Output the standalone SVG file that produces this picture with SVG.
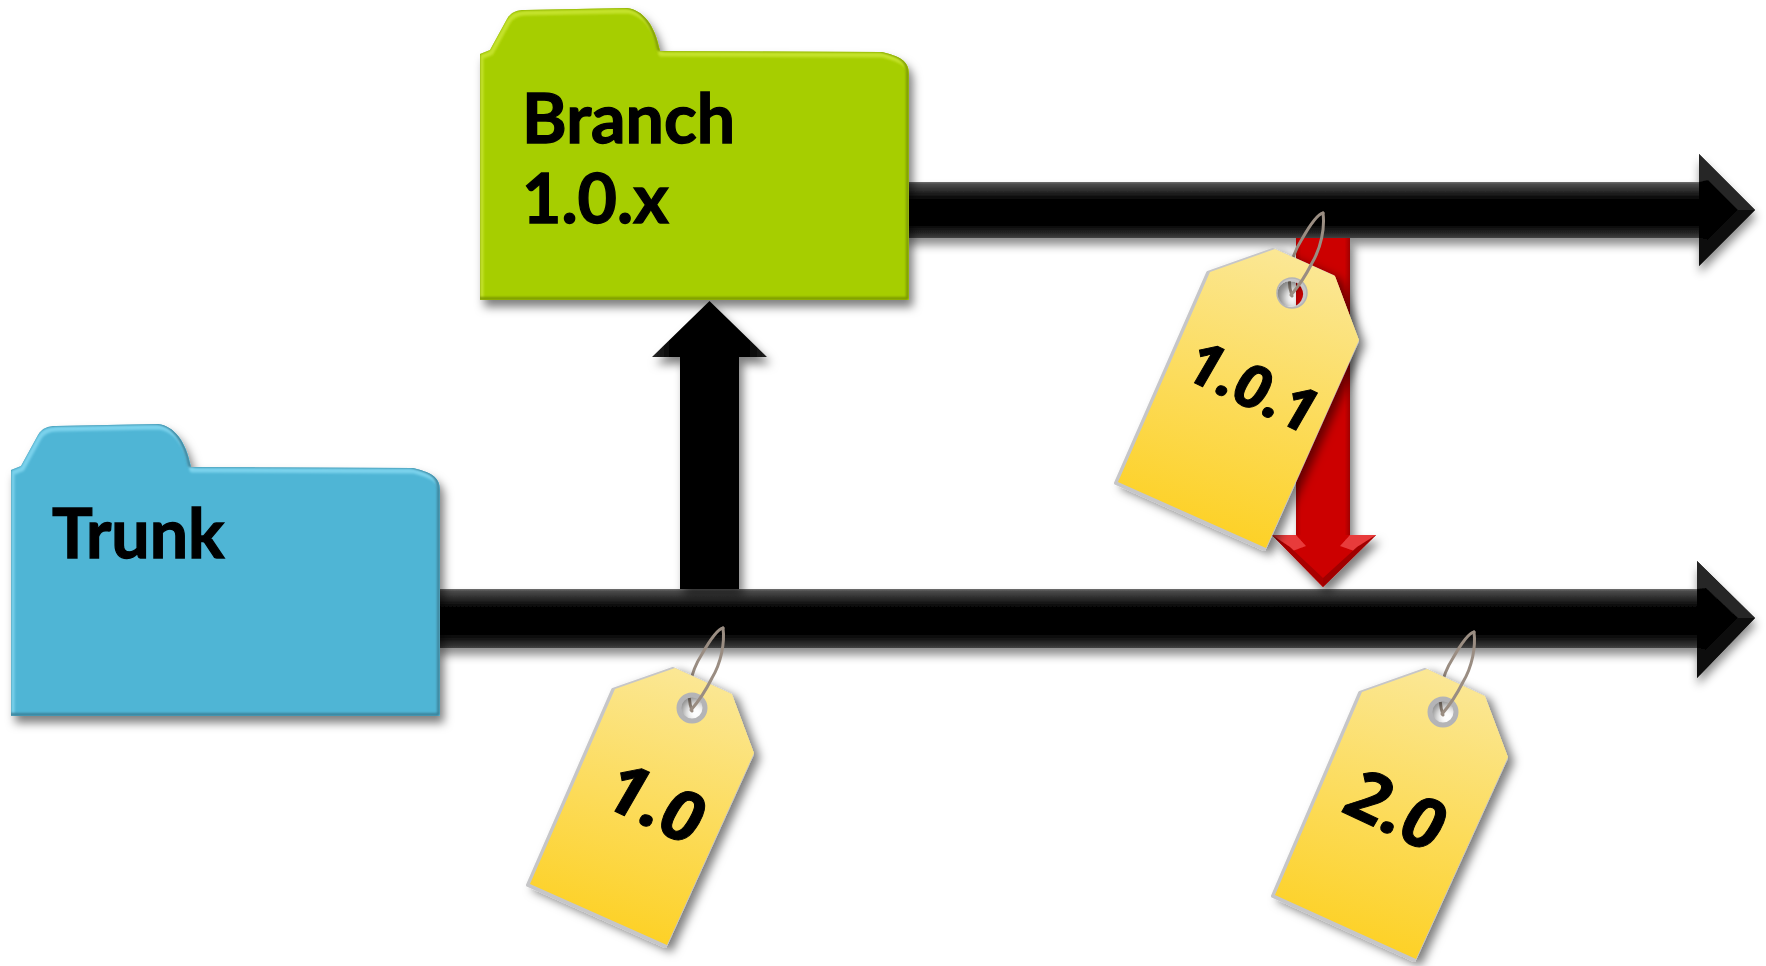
<svg xmlns="http://www.w3.org/2000/svg" width="1766" height="966" viewBox="0 0 1766 966">
<style>
.folderText{font-family:Lato,"Noto Sans",sans-serif;font-weight:700;font-size:68px;fill:#000;stroke:#000;stroke-width:1.300}
.tagText{font-family:"Open Sans","Liberation Sans",sans-serif;font-weight:700;fill:#000;stroke:#000;stroke-width:1}
.tagBody{fill:url(#tagGrad);fill-rule:evenodd}
.tagRim{fill:#c6c6c8;fill-rule:evenodd;stroke:#c6c6c8;stroke-width:4;stroke-linejoin:round}
.hole{fill:none;stroke:#b4b4b6}
.ring{fill:none;stroke:#9a8d82;stroke-width:3;stroke-linecap:round}
.lit{fill:none;stroke-width:5;stroke-linejoin:round}
.dim{fill:none;stroke-width:3;stroke-linejoin:round}
</style>
<defs>
<filter id="shadow" x="-10%" y="-10%" width="125%" height="125%"><feDropShadow dx="4" dy="7" stdDeviation="5" flood-color="#000" flood-opacity=".5"/></filter>
<filter id="shadowBar" x="-5%" y="-30%" width="110%" height="170%"><feDropShadow dx="1" dy="7" stdDeviation="5" flood-color="#000" flood-opacity=".45"/></filter>
<filter id="shadowTag" x="-20%" y="-20%" width="145%" height="145%"><feDropShadow dx="6" dy="4" stdDeviation="5" flood-color="#000" flood-opacity=".5"/></filter>
<filter id="soft" x="-5%" y="-5%" width="110%" height="110%"><feGaussianBlur stdDeviation="1.100"/></filter>
<linearGradient id="barGrad" x1="0" y1="0" x2="0" y2="1">
<stop offset="0" stop-color="#707070"/><stop offset=".04" stop-color="#4a4a4a"/><stop offset=".3" stop-color="#060606"/><stop offset=".78" stop-color="#050505"/><stop offset=".96" stop-color="#333"/><stop offset="1" stop-color="#444"/>
</linearGradient>
<linearGradient id="upGrad" x1="0" y1="0" x2="1" y2="0">
<stop offset="0" stop-color="#2a2a2a"/><stop offset=".15" stop-color="#060606"/><stop offset=".85" stop-color="#060606"/><stop offset="1" stop-color="#222"/>
</linearGradient>
<linearGradient id="tagGrad" x1=".62" y1="0" x2=".38" y2="1">
<stop offset="0" stop-color="#fbe794"/><stop offset="1" stop-color="#fdd021"/>
</linearGradient>
<linearGradient id="redShaft" x1="0" y1="0" x2="1" y2="0">
<stop offset="0" stop-color="#b00000"/><stop offset=".1" stop-color="#cc0000"/><stop offset=".9" stop-color="#cc0000"/><stop offset="1" stop-color="#a00000"/>
</linearGradient>
<path id="folderShape" d="M480 54L490 50L507 19C511 12 517 10 525 10L627 8C643 10 655 25 660 51L882 52C898 56 909 60 909 74L909 300L480 300Z"/>
<clipPath id="folderClip"><use href="#folderShape"/></clipPath>
<path id="ringBack" d="M0 3C-6 -14 -2 -35 10 -54C18 -68 26 -79 31 -80"/>
<path id="ringFront" d="M31 -80C33 -65 29 -45 20 -30C13 -16 6 -6 -1 2"/>
</defs>

<g id="connectors">
<g id="branchline" filter="url(#shadowBar)">
<rect x="905" y="182" width="796" height="56" fill="url(#barGrad)"/>
<path d="M1699 154L1755 210L1699 266Z" fill="#060606"/>
<path d="M1699 154L1755 210L1738 210L1708 180L1699 182Z" fill="#262626"/>
<path d="M1699 266L1755 210L1738 210L1708 240L1699 238Z" fill="#0f0f0f"/>
</g>
<g id="trunkline" filter="url(#shadowBar)">
<rect x="437" y="589" width="1262" height="59" fill="url(#barGrad)"/>
<path d="M1697 561L1755 618L1697 678Z" fill="#060606"/>
<path d="M1697 561L1755 618L1738 618L1706 588L1697 589Z" fill="#262626"/>
<path d="M1697 678L1755 618L1738 618L1706 650L1697 648Z" fill="#0f0f0f"/>
</g>
<g id="branchoff" filter="url(#shadow)">
<path d="M680 589L680 357L652 357L709.500 301L767 357L739 357L739 589Z" fill="url(#upGrad)"/>
</g>
<g id="merge" filter="url(#shadow)">
<rect x="1296" y="238" width="54" height="298" fill="url(#redShaft)"/>
<path d="M1272 535L1376 535L1323 587Z" fill="#cc0000"/>
<path d="M1272 535L1296 535L1306 546L1290 552Z" fill="#e83a3a"/>
<path d="M1376 535L1350 535L1340 546L1357 552Z" fill="#e83a3a"/>
<path d="M1272 535L1323 587L1323 578L1290 547Z" fill="#a80000"/>
<path d="M1376 535L1323 587L1323 578L1357 547Z" fill="#a00000"/>
</g>
</g>

<g id="branch-folder">
<use href="#folderShape" fill="#a6ce04" filter="url(#shadow)"/>
<g clip-path="url(#folderClip)">
<use href="#folderShape" class="lit" stroke="#c4e22a" transform="translate(1 3)" filter="url(#soft)"/>
<use href="#folderShape" class="dim" stroke="#7c9a02" transform="translate(-1.500 -1.500)" filter="url(#soft)"/>
</g>
<text class="folderText" x="522" y="143">Branch</text>
<text class="folderText" x="522" y="223">1.0.x</text>
</g>

<g id="trunk-folder">
<g transform="translate(-469 416)">
<use href="#folderShape" fill="#50b5d5" filter="url(#shadow)"/>
<g clip-path="url(#folderClip)">
<use href="#folderShape" class="lit" stroke="#7ad2ec" transform="translate(1 3)" filter="url(#soft)"/>
<use href="#folderShape" class="dim" stroke="#3b8199" transform="translate(-1.500 -1.500)" filter="url(#soft)"/>
</g>
</g>
<text class="folderText" x="52" y="558">Trunk</text>
</g>

<g id="tag-1-0">
<use href="#ringBack" class="ring" transform="translate(692 708)"/>
<path class="tagRim" transform="translate(-2 1)" filter="url(#shadowTag)" d="M675 668L732 694L754 753L667 945L530 884L615 689ZM692 693a15 15 0 1 0 .01 0Z"/>
<path class="tagBody" d="M675 668L732 694L754 753L667 945L530 884L615 689ZM692 693a15 15 0 1 0 .01 0Z"/>
<circle class="hole" cx="692" cy="708" r="13" stroke-width="5"/>
<use href="#ringFront" class="ring" transform="translate(692 708)"/>
<text class="tagText" font-size="70" text-anchor="middle" transform="translate(656 803) rotate(25) skewX(-5)" y="25">1.0</text>
</g>

<g id="tag-2-0">
<use href="#ringBack" class="ring" transform="translate(1443 712)"/>
<path class="tagRim" transform="translate(-2 1)" filter="url(#shadowTag)" d="M1427 669L1485 696L1508 757L1416 959L1275 895L1362 692ZM1443 697a15 15 0 1 0 .01 0Z"/>
<path class="tagBody" d="M1427 669L1485 696L1508 757L1416 959L1275 895L1362 692ZM1443 697a15 15 0 1 0 .01 0Z"/>
<circle class="hole" cx="1443" cy="712" r="13" stroke-width="5"/>
<use href="#ringFront" class="ring" transform="translate(1443 712)"/>
<text class="tagText" font-size="70" text-anchor="middle" transform="translate(1397 810) rotate(25) skewX(-5)" y="25">2.0</text>
</g>

<g id="tag-1-0-1">
<use href="#ringBack" class="ring" transform="translate(1292 293)"/>
<path class="tagRim" transform="translate(-2 1)" filter="url(#shadowTag)" d="M1275 249L1335 276L1359 340L1266 548L1118 482L1210 272ZM1292 278a15 15 0 1 0 .01 0Z"/>
<path class="tagBody" d="M1275 249L1335 276L1359 340L1266 548L1118 482L1210 272ZM1292 278a15 15 0 1 0 .01 0Z"/>
<circle class="hole" cx="1292" cy="293" r="15" stroke-width="1.500"/>
<use href="#ringFront" class="ring" transform="translate(1292 293)"/>
<text class="tagText" font-size="60" text-anchor="middle" transform="translate(1253 387) rotate(25) skewX(-5)" y="21">1.0.1</text>
</g>
</svg>
